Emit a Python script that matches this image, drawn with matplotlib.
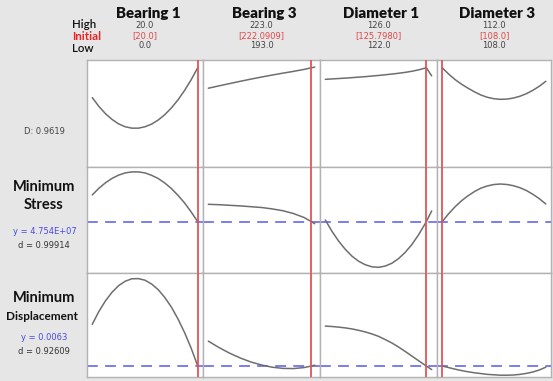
import matplotlib
matplotlib.use("Agg")
import matplotlib.pyplot as plt
from matplotlib import font_manager

# ---- factors -------------------------------------------------------------
factors = ["Bearing 1", "Bearing 3", "Diameter 1", "Diameter 3"]
low = [0.0, 193.0, 122.0, 108.0]
high = [20.0, 223.0, 126.0, 112.0]
optimum = [20.0, 222.0909, 125.7980, 108.0]
opt_decimals = [1, 4, 4, 1]

# ---- sampled factor settings for each column ------------------------------
b1_x = [0, 1.25, 2.5, 3.75, 5, 6.25, 7.5, 8.75, 10, 11.25, 12.5, 13.75, 15, 16.25,
        17.5, 18.75, 20]
b3_x = [193, 196, 199, 202, 205, 208, 211, 214, 217, 220, 222.09, 223]
d1_x = [122, 122.25, 122.5, 122.75, 123, 123.25, 123.5, 123.75, 124, 124.25, 124.5,
        124.75, 125, 125.25, 125.5, 125.75, 125.798, 126]
d3_x = [108, 108.25, 108.5, 108.75, 109, 109.25, 109.5, 109.75, 110, 110.25, 110.5,
        110.75, 111, 111.25, 111.5, 111.75, 112]

# ---- composite desirability ---------------------------------------------
D_b1 = [0.660, 0.572, 0.498, 0.440, 0.395, 0.366, 0.352, 0.352, 0.366, 0.393, 0.434,
        0.488, 0.556, 0.637, 0.732, 0.840, 0.962]
D_b3 = [0.755, 0.779, 0.802, 0.825, 0.847, 0.868, 0.888, 0.907, 0.925, 0.945, 0.962, 0.968]
D_d1 = [0.845, 0.849, 0.853, 0.857, 0.862, 0.867, 0.872, 0.878, 0.884, 0.891, 0.898,
        0.906, 0.915, 0.926, 0.940, 0.958, 0.962, 0.880]
D_d3 = [0.962, 0.898, 0.842, 0.795, 0.755, 0.718, 0.686, 0.663, 0.649, 0.643, 0.6455,
        0.656, 0.674, 0.700, 0.734, 0.7755, 0.825]

# ---- stress (Pa) -----------------------------------------------------------
S_b1 = [4.888e7, 4.921e7, 4.9485e7, 4.9705e7, 4.987e7, 4.998e7, 5.003e7, 5.003e7,
        4.998e7, 4.986e7, 4.970e7, 4.9475e7, 4.920e7, 4.886e7, 4.848e7, 4.803e7, 4.754e7]
S_b3 = [4.841e7, 4.839e7, 4.836e7, 4.833e7, 4.829e7, 4.825e7, 4.818e7, 4.809e7,
        4.795e7, 4.775e7, 4.754e7, 4.744e7]
S_d1 = [4.7625e7, 4.706e7, 4.657e7, 4.616e7, 4.582e7, 4.5565e7, 4.539e7, 4.5285e7,
        4.526e7, 4.532e7, 4.546e7, 4.569e7, 4.600e7, 4.639e7, 4.687e7, 4.743e7,
        4.754e7, 4.808e7]
S_d3 = [4.754e7, 4.794e7, 4.829e7, 4.859e7, 4.884e7, 4.905e7, 4.922e7, 4.933e7,
        4.940e7, 4.9425e7, 4.940e7, 4.934e7, 4.924e7, 4.910e7, 4.891e7, 4.869e7, 4.8425e7]

# ---- displacement ------------------------------------------------------------
U_b1 = [0.00838, 0.00902, 0.00955, 0.00998, 0.01031, 0.01053, 0.01065, 0.01066,
        0.01058, 0.01039, 0.01011, 0.00972, 0.00924, 0.00865, 0.00797, 0.00719, 0.0063]
U_b3 = [0.00754, 0.00722, 0.00694, 0.00670, 0.00650, 0.00635, 0.00624, 0.00618,
        0.00617, 0.00622, 0.0063, 0.00634]
U_d1 = [0.00829, 0.00827, 0.00824, 0.00820, 0.00815, 0.00808, 0.00800, 0.00790,
        0.00778, 0.00762, 0.00745, 0.00725, 0.00703, 0.00680, 0.00657, 0.00634,
        0.0063, 0.00612]
U_d3 = [0.0063, 0.00622, 0.00614, 0.00607, 0.00601, 0.00596, 0.00592, 0.00588,
        0.00586, 0.00584, 0.00584, 0.00585, 0.00588, 0.00593, 0.00600, 0.00610, 0.00624]

composite_D = 0.9619
stress_pred, stress_d = 4.754e7, 0.99914
disp_pred, disp_d = 0.0063, 0.92609

xs = [b1_x, b3_x, d1_x, d3_x]
rows = [
    dict(curves=[D_b1, D_b3, D_d1, D_d3], ylim=(-0.04, 1.04), target=None),
    dict(curves=[S_b1, S_b3, S_d1, S_d3], ylim=(4.4975e7, 5.0275e7), target=stress_pred),
    dict(curves=[U_b1, U_b3, U_d1, U_d3], ylim=(0.00575, 0.01094), target=disp_pred),
]

# ---- fonts ------------------------------------------------------------------
available = {f.name for f in font_manager.fontManager.ttflist}
heading = "Lato" if "Lato" in available else "DejaVu Sans"
small = "DejaVu Sans"
SMALL_SIZE = 6.0

# ---- layout (pixel grid) ------------------------------------------------------
W, H = 553, 381
col_edges = [87, 203, 320, 437, 551]
row_edges = [60, 167, 273, 377]

BG = "#e6e6e6"
EDGE = "#b2b2b2"
CURVE = "#6e6e6e"
RED = "#e05555"
BLUE = "#7272ee"
BLUE_TXT = "#4a4ae0"

fig = plt.figure(figsize=(W / 100, H / 100), dpi=100, facecolor=BG)


def fx(x):
    return x / W


def fy(y):
    return 1 - y / H


for r, row in enumerate(rows):
    for c in range(4):
        x0, x1 = col_edges[c], col_edges[c + 1]
        y0, y1 = row_edges[r], row_edges[r + 1]
        ax = fig.add_axes([fx(x0), fy(y1), (x1 - x0) / W, (y1 - y0) / H])
        ax.set_facecolor("white")
        span = high[c] - low[c]
        ax.set_xlim(low[c] - 0.05 * span, high[c] + 0.05 * span)
        ax.set_ylim(*row["ylim"])
        ax.set_xticks([])
        ax.set_yticks([])
        for s in ax.spines.values():
            s.set_color(EDGE)
            s.set_linewidth(1.0)
        ax.plot(xs[c], row["curves"][c], color=CURVE, lw=1.1,
                solid_capstyle="round", solid_joinstyle="round", zorder=3)
        ax.axvline(optimum[c], color=RED, lw=1.3, zorder=4)
        if row["target"] is not None:
            ax.axhline(row["target"], color=BLUE, lw=1.3, dashes=(6, 4), zorder=2)

# ---- header ---------------------------------------------------------------------
for c, name in enumerate(factors):
    cx = (col_edges[c] + col_edges[c + 1]) / 2
    fig.text(fx(cx + 3), fy(18.5), name, ha="center", va="baseline",
             fontsize=10.8, fontweight="heavy", family=heading, color="#111111")
    fig.text(fx(cx), fy(25), f"{high[c]:.1f}", ha="center", va="center",
             fontsize=SMALL_SIZE, family=small, color="#444444")
    fig.text(fx(cx), fy(35.5), f"[{optimum[c]:.{opt_decimals[c]}f}]", ha="center",
             va="center", fontsize=SMALL_SIZE, family=small, color="#e04848")
    fig.text(fx(cx), fy(46), f"{low[c]:.1f}", ha="center", va="center",
             fontsize=SMALL_SIZE, family=small, color="#444444")

fig.text(fx(72), fy(25), "High", ha="left", va="center", fontsize=8.3,
         family=heading, fontweight="semibold", color="#111111")
fig.text(fx(72), fy(37), "Initial", ha="left", va="center", fontsize=8.3,
         family=heading, fontweight="bold", color="#ee2222")
fig.text(fx(72), fy(49), "Low", ha="left", va="center", fontsize=8.3,
         family=heading, fontweight="semibold", color="#111111")

# ---- row labels ----------------------------------------------------------------
fig.text(fx(44), fy(131.5), f"D: {composite_D:.4f}", ha="center", va="center",
         fontsize=SMALL_SIZE, family=small, color="#444444")

fig.text(fx(44), fy(187), "Minimum", ha="center", va="center", fontsize=10.5,
         fontweight="bold", family=heading, color="#111111")
fig.text(fx(44), fy(205), "Stress", ha="center", va="center", fontsize=10.5,
         fontweight="bold", family=heading, color="#111111")
fig.text(fx(45), fy(231), f"y = {stress_pred:.3E}", ha="center",
         va="center", fontsize=SMALL_SIZE, family=small, color=BLUE_TXT)
fig.text(fx(44), fy(246), f"d = {stress_d:.5f}", ha="center", va="center",
         fontsize=SMALL_SIZE, family=small, color="#333333")

fig.text(fx(44), fy(298.5), "Minimum", ha="center", va="center", fontsize=10.5,
         fontweight="bold", family=heading, color="#111111")
fig.text(fx(42), fy(316), "Displacement", ha="center", va="center", fontsize=8.5,
         fontweight="bold", family=heading, color="#111111")
fig.text(fx(44), fy(337), f"y = {disp_pred:.4f}", ha="center", va="center",
         fontsize=SMALL_SIZE, family=small, color=BLUE_TXT)
fig.text(fx(44), fy(351), f"d = {disp_d:.5f}", ha="center", va="center",
         fontsize=SMALL_SIZE, family=small, color="#333333")

fig.savefig("out.png", dpi=100, facecolor=BG)
